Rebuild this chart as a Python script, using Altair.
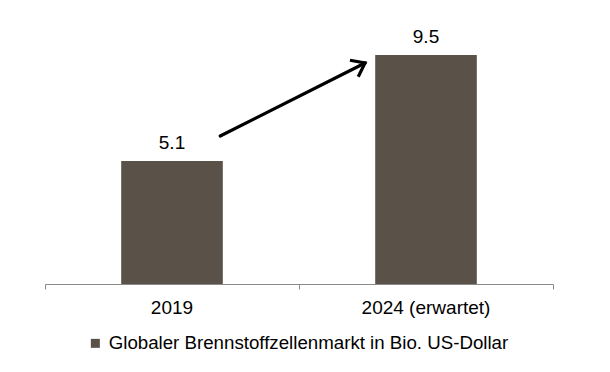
import altair as alt
import pandas as pd

# ---- data ----
categories = ["2019", "2024 (erwartet)"]
values = [5.1, 9.5]
series_name = "Globaler Brennstoffzellenmarkt in Bio. US-Dollar"
# arrow annotation (x in category-slot units 0..2, y in data units)
arrow_x = [0.69, 1.26]
arrow_y = [6.14, 9.17]
slot_ticks = [0, 1, 2]

BAR = "#5a5148"
AX = "#8a8a8a"
FONT = "Liberation Sans"

bars_df = pd.DataFrame({"cat": categories, "val": values, "series": [series_name] * len(values)})
arrow_df = pd.DataFrame({"x": arrow_x, "y": arrow_y, "order": list(range(len(arrow_x)))})
head_df = arrow_df.tail(1)

yscale = alt.Scale(domain=[0, 10], nice=False)

xband = alt.X(
    "cat:N",
    sort=categories,
    scale=alt.Scale(paddingInner=0, paddingOuter=0),
    axis=alt.Axis(
        title=None, domain=False, ticks=False, labelAngle=0, labelFontSize=19,
        labelFont=FONT, labelColor="#000000", labelPadding=14, orient="bottom",
    ),
)

bars = alt.Chart(bars_df).mark_bar(width={"band": 0.4}).encode(
    x=xband,
    y=alt.Y("val:Q", scale=yscale, axis=None),
    color=alt.Color(
        "series:N",
        scale=alt.Scale(range=[BAR]),
        legend=alt.Legend(
            title=None, orient="none", legendX=41, legendY=291, symbolType="square",
            symbolSize=81, symbolStrokeWidth=0, labelFontSize=18.7, labelFont=FONT,
            labelColor="#000000", labelOffset=4, padding=0, labelLimit=600,
        ),
    ),
)

texts = alt.Chart(bars_df).mark_text(
    dy=-18, fontSize=19, font=FONT, color="#000000", baseline="middle"
).encode(
    x=alt.X("cat:N", sort=categories),
    y=alt.Y("val:Q", scale=yscale),
    text=alt.Text("val:Q", format=".1f"),
)

layerA = alt.layer(bars, texts)

xq = alt.X(
    "x:Q",
    scale=alt.Scale(domain=[0, 2], nice=False, zero=True),
    axis=alt.Axis(
        title=None, values=slot_ticks, labels=False, grid=False, tickSize=5,
        tickColor=AX, domainColor=AX, orient="bottom", domainWidth=1, tickWidth=1,
    ),
)

arrow_line = alt.Chart(arrow_df).mark_line(color="#000000", strokeWidth=3.2, strokeCap="round").encode(
    x=xq,
    y=alt.Y("y:Q", scale=yscale),
    order="order:O",
)

arrow_head = alt.Chart(head_df).mark_point(
    shape="M -1 -0.75 L 0 0 L -1 0.75",
    filled=False, stroke="#000000", strokeWidth=3.2, size=600, angle=333.3,
    strokeJoin="miter", opacity=1,
).encode(
    x=alt.X("x:Q"),
    y=alt.Y("y:Q", scale=yscale),
)

layerB = alt.layer(arrow_line, arrow_head)

chart = alt.layer(layerA, layerB).resolve_scale(x="independent").properties(
    width=508,
    height=241,
    autosize=alt.AutoSizeParams(type="none"),
    padding={"left": 37, "top": 35, "right": 49, "bottom": 80},
    background="#ffffff",
).configure_view(stroke=None)

chart.save("out.html", embed_options={"renderer": "svg", "actions": False})
